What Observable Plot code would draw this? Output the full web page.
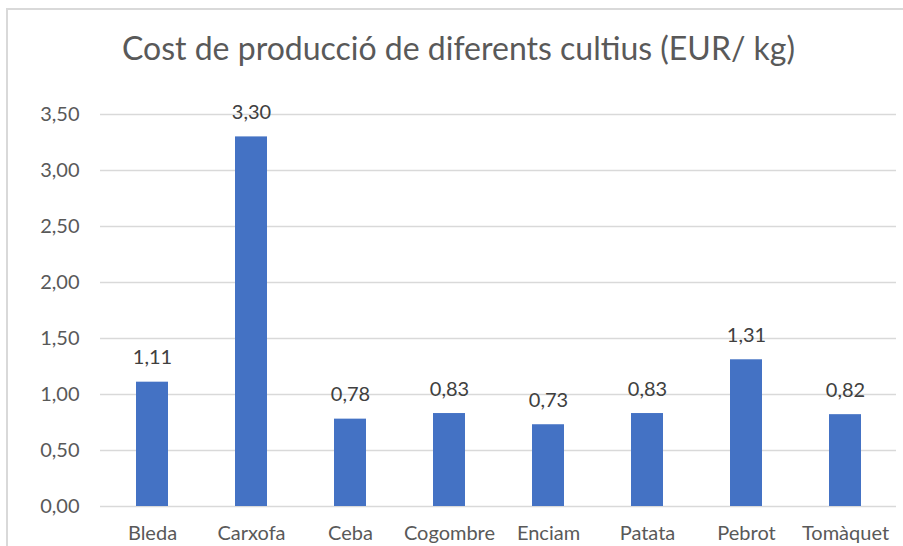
<!DOCTYPE html>
<html>
<head>
<meta charset="utf-8">
<script src="https://cdn.jsdelivr.net/npm/d3@7"></script>
<script src="https://cdn.jsdelivr.net/npm/@observablehq/plot@0.6"></script>
<style>
  html, body { margin: 0; padding: 0; background: #fff; overflow: hidden; width: 903px; height: 546px; }
  #border { position: absolute; left: 6px; top: 8px; width: 1200px; height: 1200px; border: 2px solid #d9d9d9; box-sizing: border-box; }
  #chart { position: absolute; left: 0; top: 0; }
</style>
</head>
<body>
<div id="border"></div>
<div id="chart"></div>
<script>
const title = "Cost de producció de diferents cultius (EUR/ kg)";
const categories = ["Bleda", "Carxofa", "Ceba", "Cogombre", "Enciam", "Patata", "Pebrot", "Tomàquet"];
const values = [1.11, 3.30, 0.78, 0.83, 0.73, 0.83, 1.31, 0.82];
const yTicks = [0, 0.5, 1.0, 1.5, 2.0, 2.5, 3.0, 3.5];

const data = categories.map((c, i) => ({category: c, value: values[i]}));
const fmt = v => d3.format(".2f")(v).replace(".", ",");
const font = "Lato, 'Open Sans', sans-serif";

const chart = Plot.plot({
  width: 903,
  height: 546,
  marginLeft: 100,
  marginRight: 7,
  marginTop: 114,
  marginBottom: 40,
  style: {fontFamily: font, fontSize: "20px", color: "#595959", background: "transparent"},
  x: {domain: categories, paddingInner: 0.68, paddingOuter: 0.34, label: null},
  y: {domain: [0, 3.5], label: null},
  marks: [
    Plot.ruleY(yTicks, {stroke: "#d9d9d9", strokeWidth: 1.5}),
    Plot.barY(data, {x: "category", y: "value", fill: "#4472c4"}),
    Plot.text(data, {x: "category", y: "value", text: d => fmt(d.value), lineAnchor: "bottom", dy: -18, fill: "#404040", fontSize: 20}),
    Plot.axisY({ticks: yTicks, tickFormat: fmt, tickSize: 0, tickPadding: 21, fontSize: 20, label: null}),
    Plot.axisX({tickSize: 0, tickPadding: 19, fontSize: 20, label: null}),
    Plot.text([title], {frameAnchor: "top", x: null, dx: -40, dy: -55, lineAnchor: "bottom", fontSize: 32, fill: "#595959", text: d => d})
  ]
});
document.getElementById("chart").appendChild(chart);
</script>
</body>
</html>
